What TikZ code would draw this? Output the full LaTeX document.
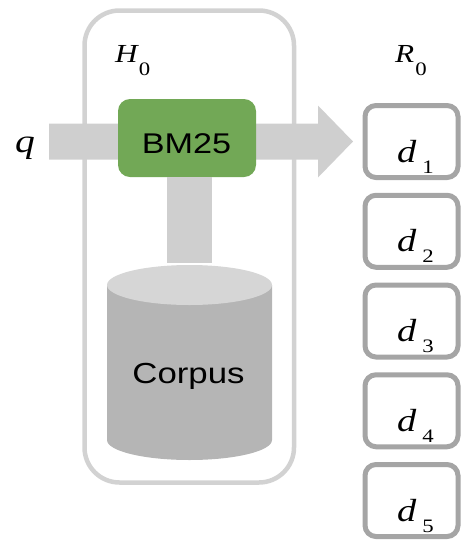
\documentclass[tikz,border=0pt]{standalone}
\usepackage{fontspec}
\usepackage{graphicx}
\usetikzlibrary{calc}
\newfontfamily\labsans{Liberation Sans}
\newfontfamily\labserif{Liberation Serif}
\definecolor{framegray}{RGB}{210,210,210}
\definecolor{flowgray}{RGB}{207,207,207}
\definecolor{docgray}{RGB}{165,165,165}
\definecolor{bmgreen}{RGB}{114,168,86}
\definecolor{cylbody}{RGB}{181,181,181}
\definecolor{cyltop}{RGB}{214,214,214}
% text is set slightly widened
\newcommand\wide[1]{\scalebox{1.2}[1]{#1}}
% italic symbol with an upright subscript: size, letter, index, kern, drop
\newcommand\symsub[5]{\wide{\fontsize{#1}{#1}\selectfont\labserif\itshape #2\kern#4\raisebox{-#5}{\fontsize{19}{19}\selectfont\upshape #3}}}
\begin{document}
\begin{tikzpicture}[x=1pt,y=-1pt,
  hbox/.style={draw=framegray,line width=4.5pt,rounded corners=35pt,minimum width=209.5pt,minimum height=472pt,inner sep=0pt},
  docbox/.style={draw=docgray,line width=5pt,rounded corners=11pt,minimum width=93pt,minimum height=72pt,inner sep=0pt,fill=white},
  engine/.style={fill=bmgreen,rounded corners=12pt,minimum width=138pt,minimum height=78pt,inner sep=0pt},
  lab/.style={inner sep=0pt,anchor=base west},
  ctext/.style={inner sep=0pt,anchor=base}]

\useasboundingbox (0,0) rectangle (461,542);

% retrieval stage frame
\node[hbox] (h0box) at (189.25,246.5) {};

% ranked documents
\foreach \i in {1,...,5}
  \node[docbox] (d\i) at (411.5,{141.5+89.75*(\i-1)}) {};
\foreach \i in {1,...,5}
  \node[lab] (dl\i) at (397,{162+89.75*(\i-1)}) {\symsub{32}{d}{\i}{5pt}{11pt}};

% labels
\node[lab] (h0lbl) at (115,62) {\symsub{26}{H}{0}{1pt}{13pt}};
\node[lab] (r0lbl) at (395,62) {\symsub{26}{R}{0}{1pt}{13pt}};
\node[lab] (qlbl) at (15,152) {\wide{\fontsize{33}{33}\selectfont\labserif\itshape q}};

% query flow: block arrow into the ranking
\coordinate (qtail) at (49,141.5);
\coordinate (tip) at ($(d1.west)+(-9.5,0)$);
\fill[flowgray] ($(qtail)+(0,-18)$) -- ($(tip)+(-35,-18)$) -- ($(tip)+(-35,-36)$)
  -- (tip) -- ($(tip)+(-35,36)$) -- ($(tip)+(-35,18)$) -- ($(qtail)+(0,18)$) -- cycle;

% ranking function
\node[engine] (bm25) at (187,138) {};
\node[ctext] (bm25lbl) at ($(bm25.center)+(-0.5,15)$) {\wide{\fontsize{28.5}{28.5}\selectfont\labsans BM25}};

% link to the corpus
\coordinate (dbtop) at (189.5,263);
\fill[flowgray] ($(bm25.south -| dbtop)+(-22.5,0)$) rectangle ($(dbtop)+(22.5,0)$);

% corpus cylinder
\fill[cylbody] (107,285) -- (107,440) arc[start angle=180,end angle=0,x radius=82.5,y radius=20] -- (272,285) -- cycle;
\fill[cyltop] (189.5,285) ellipse[x radius=82.5,y radius=20];
\node[ctext] (corpus) at (188.5,383) {\wide{\fontsize{29}{29}\selectfont\labsans Corpus}};
\end{tikzpicture}
\end{document}
